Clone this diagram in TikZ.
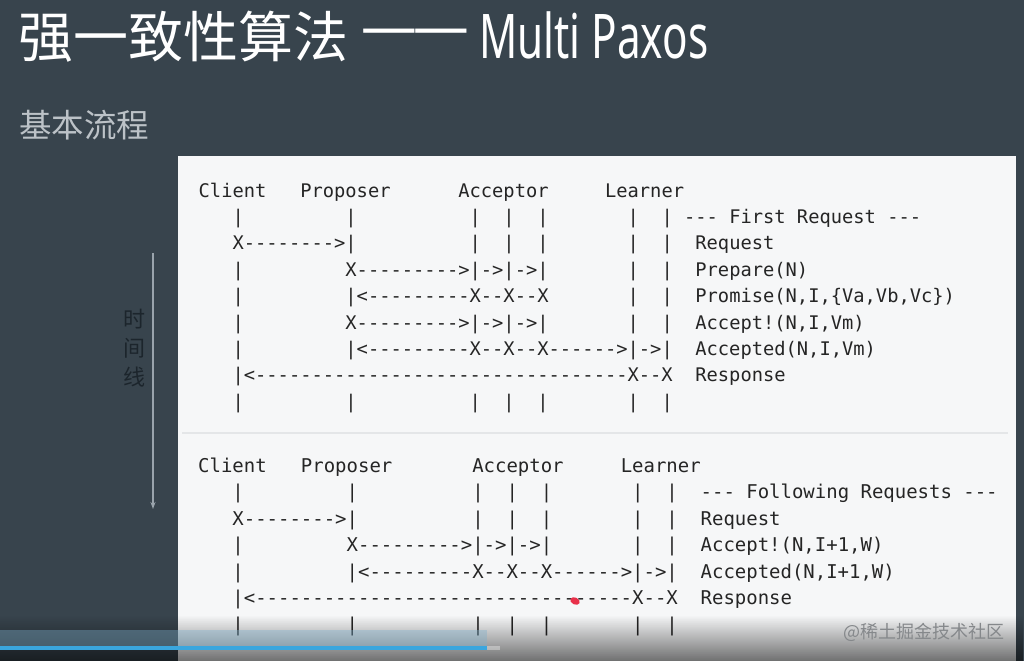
\documentclass[tikz,border=0pt]{standalone}
\usepackage{fontspec}
\setmonofont{DejaVu Sans Mono}
\newfontfamily\cjk{Noto Sans CJK SC}
\newfontfamily\latinsans{Noto Sans}
\usetikzlibrary{arrows.meta,fadings}
\definecolor{bg}{HTML}{38444D}
\definecolor{panel}{HTML}{F6F7F8}
\definecolor{ink}{HTML}{252525}
\definecolor{subt}{HTML}{BCC2C7}
\definecolor{tline}{HTML}{9AA4AC}
\definecolor{tlabel}{HTML}{1C252C}
\definecolor{divider}{HTML}{E4E6E8}
\definecolor{wmark}{HTML}{85888B}
\definecolor{progress}{HTML}{3AA6DE}
\definecolor{band}{HTML}{7FAFCB}
\definecolor{dot}{HTML}{E8304A}
\tikzset{
  ascA/.style={anchor=base west, inner sep=0pt, text=ink, font=\fontsize{18.75}{22}\selectfont\ttfamily},
  ascB/.style={anchor=base west, inner sep=0pt, text=ink, font=\fontsize{18.97}{22}\selectfont\ttfamily},
  timeline/.style={draw=tline, line width=1.3pt, -{Stealth[length=7pt,width=5pt]}},
  titletext/.style={inner sep=0pt, text=white},
}
\begin{document}
\begin{tikzpicture}[x=1pt,y=-1pt]
\useasboundingbox (0,0) rectangle (1024,661);
\fill[bg] (0,0) rectangle (1024,661);
\fill[panel] (178,156) rectangle (1016,661);
\draw[divider, line width=1.5pt] (182,433) -- (1008,433);

% title
\node[titletext, anchor=west, font=\cjk\fontsize{55}{60}\selectfont] (t1) at (18,37) {强一致性算法};
\node[titletext, anchor=west] (t2) at (362,37) {\scalebox{1.04}[1]{\latinsans\fontsize{53.5}{60}\selectfont \kern-0.02em—\kern-0.06em—}};
\node[titletext, anchor=base west] (t3) at (479,59) {\scalebox{0.686}[1]{\latinsans\fontsize{61.6}{70}\selectfont Multi Paxos}};
\node[anchor=west, inner sep=0pt, text=subt, font=\cjk\fontsize{32.5}{34}\selectfont] (st) at (19,125) {基本流程};

% time line
\coordinate (ta) at (153,253);
\coordinate (tb) at (153,509);
\draw[timeline] (ta) -- (tb);
\node[inner sep=0pt, text=tlabel, align=center, font=\cjk\fontsize{22}{29}\selectfont] (tl) at (134,348) {时\\间\\线};

% first block
\node[ascA] (a0) at (198.5,197) {Client~~~Proposer~~~~~~Acceptor~~~~~Learner};
\node[ascA] (a1) at (198.5,223.4) {~~~|~~~~~~~~~|~~~~~~~~~~|~~|~~|~~~~~~~|~~|~---~First~Request~---};
\node[ascA] (a2) at (198.5,249.8) {~~~X-------->|~~~~~~~~~~|~~|~~|~~~~~~~|~~|~~Request};
\node[ascA] (a3) at (198.5,276.2) {~~~|~~~~~~~~~X--------->|->|->|~~~~~~~|~~|~~Prepare(N)};
\node[ascA] (a4) at (198.5,302.6) {~~~|~~~~~~~~~|<---------X--X--X~~~~~~~|~~|~~Promise(N,I,\{Va,Vb,Vc\})};
\node[ascA] (a5) at (198.5,329.0) {~~~|~~~~~~~~~X--------->|->|->|~~~~~~~|~~|~~Accept!(N,I,Vm)};
\node[ascA] (a6) at (198.5,355.4) {~~~|~~~~~~~~~|<---------X--X--X------>|->|~~Accepted(N,I,Vm)};
\node[ascA] (a7) at (198.5,381.8) {~~~|<---------------------------------X--X~~Response};
\node[ascA] (a8) at (198.5,408.2) {~~~|~~~~~~~~~|~~~~~~~~~~|~~|~~|~~~~~~~|~~|};

% second block
\node[ascB] (b0) at (198,472) {Client~~~Proposer~~~~~~~Acceptor~~~~~Learner};
\node[ascB] (b1) at (198,498.5) {~~~|~~~~~~~~~|~~~~~~~~~~|~~|~~|~~~~~~~|~~|~~---~Following~Requests~---};
\node[ascB] (b2) at (198,525) {~~~X-------->|~~~~~~~~~~|~~|~~|~~~~~~~|~~|~~Request};
\node[ascB] (b3) at (198,551.5) {~~~|~~~~~~~~~X--------->|->|->|~~~~~~~|~~|~~Accept!(N,I+1,W)};
\node[ascB] (b4) at (198,578) {~~~|~~~~~~~~~|<---------X--X--X------>|->|~~Accepted(N,I+1,W)};
\node[ascB] (b5) at (198,604.5) {~~~|<---------------------------------X--X~~Response};
\node[ascB] (b6) at (198,631) {~~~|~~~~~~~~~|~~~~~~~~~~|~~|~~|~~~~~~~|~~|};

% pointer dot
\fill[dot, rotate around={-25:(575,601)}] (575,601) ellipse (5pt and 3.5pt);

% player overlay
\fill[black, opacity=0.55, path fading=north] (0,615) rectangle (1024,661);
\fill[band, opacity=0.4] (0,630) rectangle (487,646);
\fill[progress] (0,645.5) rectangle (487,649.5);
\fill[white, opacity=0.35] (487,645.5) rectangle (500,649.5);
\node[anchor=east, inner sep=0pt, text=wmark, font=\cjk\fontsize{18}{20}\selectfont] (wm) at (1005,632) {@稀土掘金技术社区};
\end{tikzpicture}
\end{document}
